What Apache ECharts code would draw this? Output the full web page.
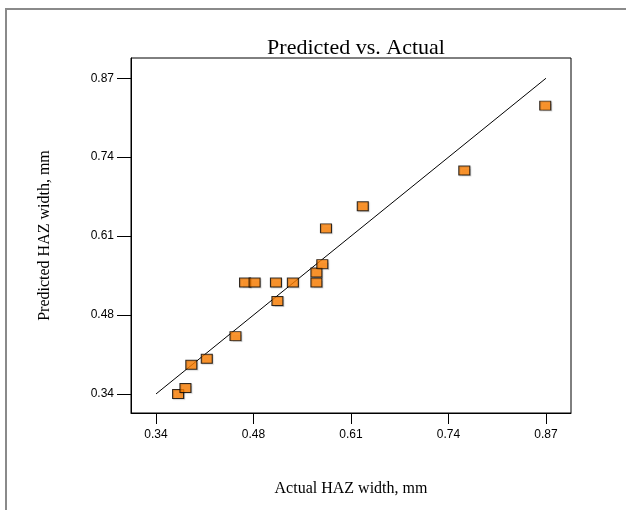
<!DOCTYPE html>
<html>
<head>
<meta charset="utf-8">
<script src="https://cdn.jsdelivr.net/npm/echarts@6/dist/echarts.min.js"></script>
<style>
  html, body { margin: 0; padding: 0; background: #fff; }
  #chart { width: 626px; height: 510px; }
</style>
</head>
<body>
<div id="chart"></div>
<script>
// actual vs predicted HAZ width (mm)
const actual = [0.370, 0.380, 0.388, 0.409, 0.448, 0.461, 0.474, 0.503, 0.505, 0.526, 0.558, 0.558, 0.566, 0.571, 0.621, 0.759, 0.869]
const predicted = [0.340, 0.350, 0.389, 0.399, 0.437, 0.527, 0.527, 0.527, 0.496, 0.527, 0.527, 0.544, 0.558, 0.618, 0.655, 0.715, 0.824]

// ticks are evenly spaced between 0.34 and 0.87, labels are rounded
const tickValues = [0.34, 0.4725, 0.605, 0.7375, 0.87]
const tickLabels = ['0.34', '0.48', '0.61', '0.74', '0.87']
const fitLine = [[0.34, 0.34], [0.87, 0.87]]

const chart = echarts.init(document.getElementById('chart'))

const points = actual.map((x, i) => [x, predicted[i]])
const labelFor = v => {
  const i = tickValues.findIndex(t => Math.abs(t - v) < 1e-6)
  return i >= 0 ? tickLabels[i] : ''
}

const option = {
  backgroundColor: '#fff',
  animation: false,
  title: {
    text: 'Predicted vs. Actual',
    left: 351,
    top: 32,
    textAlign: 'center',
    textStyle: { fontFamily: 'Liberation Serif', fontWeight: 'normal', fontSize: 22, color: '#000' }
  },
  graphic: [
    {
      type: 'rect',
      shape: { x: 6, y: 9, width: 640, height: 520 },
      style: { fill: 'none', stroke: '#8a8a8a', lineWidth: 2 },
      silent: true
    }
  ],
  grid: {
    left: 131,
    top: 58,
    right: 55,
    bottom: 97,
    show: true,
    borderColor: '#000',
    borderWidth: 1
  },
  xAxis: {
    type: 'value',
    min: 0.306,
    max: 0.904,
    name: 'Actual HAZ width, mm',
    nameLocation: 'middle',
    nameGap: 68,
    nameTextStyle: { fontFamily: 'Liberation Serif', fontSize: 16, color: '#000' },
    axisLine: { show: true, onZero: false, lineStyle: { color: '#000', width: 1 } },
    axisTick: { show: true, length: 11, customValues: tickValues, lineStyle: { color: '#000' } },
    axisLabel: {
      customValues: tickValues,
      formatter: labelFor,
      margin: 16,
      fontFamily: 'Liberation Sans',
      fontSize: 12,
      color: '#000'
    },
    splitLine: { show: false }
  },
  yAxis: {
    type: 'value',
    min: 0.308,
    max: 0.904,
    name: 'Predicted HAZ width, mm',
    nameLocation: 'middle',
    nameGap: 78,
    nameRotate: 90,
    nameTextStyle: { fontFamily: 'Liberation Serif', fontSize: 16, color: '#000' },
    axisLine: { show: true, onZero: false, lineStyle: { color: '#000', width: 1 } },
    axisTick: { show: true, length: 14, customValues: tickValues, lineStyle: { color: '#000' } },
    axisLabel: {
      customValues: tickValues,
      formatter: labelFor,
      margin: 17,
      fontFamily: 'Liberation Sans',
      fontSize: 12,
      color: '#000'
    },
    splitLine: { show: false }
  },
  series: [
    {
      type: 'line',
      data: fitLine,
      showSymbol: false,
      lineStyle: { color: '#000', width: 1 },
      z: 2
    },
    {
      type: 'scatter',
      data: points,
      symbol: 'rect',
      symbolSize: [11, 9],
      itemStyle: {
        color: '#ff8000',
        borderColor: '#000',
        borderWidth: 1,
        shadowColor: 'rgba(0,0,0,0.2)',
        shadowBlur: 1,
        shadowOffsetX: 1,
        shadowOffsetY: 1
      },
      z: 3
    }
  ]
}

chart.setOption(option)
</script>
</body>
</html>
